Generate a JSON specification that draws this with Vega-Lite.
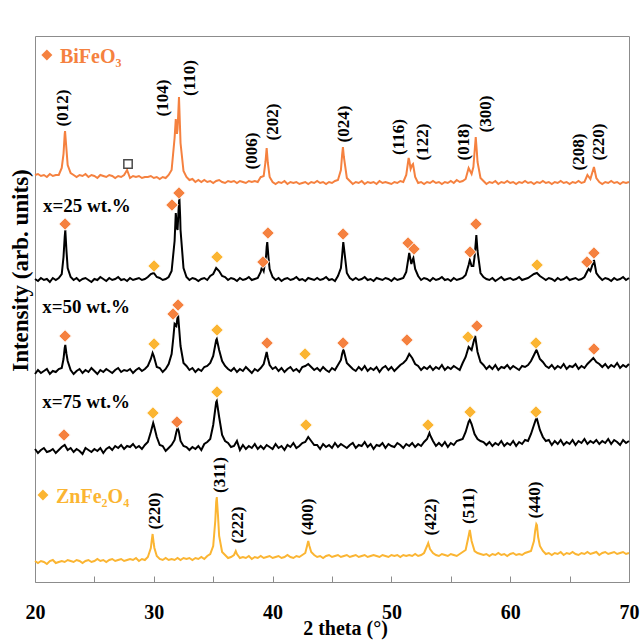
{
"$schema":"https://vega.github.io/schema/vega-lite/v6.json",
"width":594,"height":546,
"autosize":{"type":"none"},
"padding":{"left":35,"top":36,"right":13,"bottom":59},
"background":"white",
"config":{"view":{"stroke":"#8c8c8c","strokeWidth":1},"font":"Liberation Serif"},
"datasets":{
"xrd":[
{"t":20,"a":407,"b":303,"c":208,"d":133,"e":21},
{"t":20.25,"a":408,"b":301,"c":212,"d":129,"e":19},
{"t":20.5,"a":406,"b":304,"c":209,"d":132,"e":21},
{"t":20.75,"a":407,"b":302,"c":211,"d":134,"e":20},
{"t":21,"a":405,"b":303,"c":213,"d":130,"e":18},
{"t":21.25,"a":408,"b":300,"c":208,"d":131,"e":21},
{"t":21.5,"a":406,"b":304,"c":211,"d":133,"e":22},
{"t":21.75,"a":407,"b":302,"c":210,"d":129,"e":19},
{"t":22,"a":407,"b":304,"c":213,"d":132,"e":20},
{"t":22.25,"a":414,"b":308,"c":214,"d":135,"e":21},
{"t":22.5,"a":448,"b":345,"c":234,"d":137,"e":20},
{"t":22.75,"a":417,"b":314,"c":221,"d":132,"e":22},
{"t":23,"a":409,"b":305,"c":212,"d":134,"e":21},
{"t":23.25,"a":407,"b":302,"c":208,"d":130,"e":20},
{"t":23.5,"a":405,"b":304,"c":211,"d":133,"e":22},
{"t":23.75,"a":407,"b":301,"c":213,"d":131,"e":21},
{"t":24,"a":406,"b":303,"c":209,"d":128,"e":19},
{"t":24.25,"a":408,"b":304,"c":212,"d":134,"e":21},
{"t":24.5,"a":405,"b":302,"c":210,"d":132,"e":22},
{"t":24.75,"a":407,"b":300,"c":214,"d":130,"e":20},
{"t":25,"a":406,"b":303,"c":211,"d":133,"e":21},
{"t":25.25,"a":404,"b":302,"c":208,"d":131,"e":23},
{"t":25.5,"a":407,"b":305,"c":212,"d":134,"e":21},
{"t":25.75,"a":406,"b":303,"c":210,"d":129,"e":22},
{"t":26,"a":405,"b":301,"c":213,"d":133,"e":20},
{"t":26.25,"a":407,"b":304,"c":211,"d":135,"e":22},
{"t":26.5,"a":406,"b":302,"c":209,"d":132,"e":23},
{"t":26.75,"a":404,"b":303,"c":212,"d":136,"e":21},
{"t":27,"a":406,"b":305,"c":214,"d":134,"e":22},
{"t":27.25,"a":405,"b":302,"c":210,"d":137,"e":23},
{"t":27.5,"a":407,"b":303,"c":212,"d":133,"e":21},
{"t":27.75,"a":412,"b":301,"c":211,"d":136,"e":22},
{"t":28,"a":404,"b":304,"c":213,"d":135,"e":23},
{"t":28.25,"a":406,"b":302,"c":209,"d":138,"e":22},
{"t":28.5,"a":405,"b":303,"c":212,"d":134,"e":24},
{"t":28.75,"a":406,"b":304,"c":214,"d":136,"e":21},
{"t":29,"a":404,"b":302,"c":211,"d":133,"e":23},
{"t":29.25,"a":405,"b":303,"c":213,"d":137,"e":22},
{"t":29.5,"a":405,"b":305,"c":216,"d":140,"e":25},
{"t":29.75,"a":406,"b":308,"c":223,"d":150,"e":34},
{"t":30,"a":404,"b":309,"c":226,"d":157,"e":38},
{"t":30.25,"a":405,"b":305,"c":215,"d":145,"e":26},
{"t":30.5,"a":403,"b":304,"c":214,"d":137,"e":23},
{"t":30.75,"a":405,"b":302,"c":210,"d":136,"e":22},
{"t":31,"a":404,"b":303,"c":213,"d":131,"e":24},
{"t":31.25,"a":407,"b":305,"c":218,"d":134,"e":22},
{"t":31.5,"a":412,"b":311,"c":228,"d":137,"e":23},
{"t":31.75,"a":444,"b":341,"c":258,"d":142,"e":22},
{"t":32,"a":453,"b":352,"c":265,"d":154,"e":24},
{"t":32.25,"a":439,"b":352,"c":236,"d":141,"e":22},
{"t":32.5,"a":411,"b":314,"c":219,"d":136,"e":24},
{"t":32.75,"a":405,"b":305,"c":216,"d":135,"e":23},
{"t":33,"a":402,"b":302,"c":212,"d":132,"e":24},
{"t":33.25,"a":403,"b":304,"c":214,"d":135,"e":22},
{"t":33.5,"a":400,"b":303,"c":210,"d":133,"e":24},
{"t":33.75,"a":402,"b":301,"c":213,"d":136,"e":23},
{"t":34,"a":400,"b":303,"c":211,"d":132,"e":25},
{"t":34.25,"a":402,"b":304,"c":215,"d":138,"e":23},
{"t":34.5,"a":400,"b":302,"c":216,"d":140,"e":26},
{"t":34.75,"a":401,"b":306,"c":219,"d":143,"e":28},
{"t":35,"a":399,"b":308,"c":226,"d":157,"e":36},
{"t":35.25,"a":401,"b":314,"c":242,"d":180,"e":80},
{"t":35.5,"a":402,"b":311,"c":232,"d":165,"e":46},
{"t":35.75,"a":400,"b":306,"c":221,"d":147,"e":30},
{"t":36,"a":399,"b":305,"c":216,"d":141,"e":27},
{"t":36.25,"a":401,"b":302,"c":213,"d":139,"e":24},
{"t":36.5,"a":400,"b":304,"c":211,"d":135,"e":25},
{"t":36.75,"a":401,"b":303,"c":214,"d":136,"e":27},
{"t":37,"a":399,"b":301,"c":210,"d":141,"e":28},
{"t":37.25,"a":401,"b":304,"c":213,"d":132,"e":24},
{"t":37.5,"a":400,"b":302,"c":211,"d":137,"e":25},
{"t":37.75,"a":399,"b":303,"c":215,"d":133,"e":24},
{"t":38,"a":401,"b":305,"c":212,"d":136,"e":26},
{"t":38.25,"a":400,"b":302,"c":209,"d":134,"e":23},
{"t":38.5,"a":401,"b":303,"c":213,"d":138,"e":25},
{"t":38.75,"a":400,"b":304,"c":211,"d":133,"e":24},
{"t":39,"a":405,"b":310,"c":214,"d":136,"e":26},
{"t":39.25,"a":406,"b":311,"c":218,"d":133,"e":24},
{"t":39.5,"a":434,"b":335,"c":230,"d":137,"e":25},
{"t":39.75,"a":405,"b":313,"c":217,"d":135,"e":26},
{"t":40,"a":400,"b":305,"c":213,"d":133,"e":24},
{"t":40.25,"a":398,"b":302,"c":215,"d":138,"e":25},
{"t":40.5,"a":400,"b":304,"c":211,"d":134,"e":26},
{"t":40.75,"a":399,"b":301,"c":214,"d":136,"e":24},
{"t":41,"a":401,"b":303,"c":210,"d":132,"e":25},
{"t":41.25,"a":398,"b":304,"c":213,"d":137,"e":27},
{"t":41.5,"a":400,"b":302,"c":215,"d":135,"e":25},
{"t":41.75,"a":399,"b":303,"c":211,"d":139,"e":24},
{"t":42,"a":400,"b":305,"c":213,"d":134,"e":26},
{"t":42.25,"a":398,"b":302,"c":210,"d":136,"e":25},
{"t":42.5,"a":399,"b":303,"c":215,"d":139,"e":27},
{"t":42.75,"a":400,"b":301,"c":216,"d":140,"e":29},
{"t":43,"a":398,"b":304,"c":218,"d":145,"e":41},
{"t":43.25,"a":400,"b":303,"c":215,"d":141,"e":30},
{"t":43.5,"a":399,"b":302,"c":212,"d":137,"e":27},
{"t":43.75,"a":401,"b":304,"c":214,"d":137,"e":25},
{"t":44,"a":399,"b":302,"c":211,"d":133,"e":26},
{"t":44.25,"a":400,"b":303,"c":215,"d":138,"e":24},
{"t":44.5,"a":398,"b":305,"c":212,"d":135,"e":26},
{"t":44.75,"a":400,"b":302,"c":210,"d":137,"e":27},
{"t":45,"a":399,"b":303,"c":214,"d":134,"e":25},
{"t":45.25,"a":401,"b":301,"c":212,"d":139,"e":26},
{"t":45.5,"a":402,"b":306,"c":217,"d":135,"e":27},
{"t":45.75,"a":412,"b":314,"c":222,"d":138,"e":25},
{"t":46,"a":425,"b":335,"c":231,"d":136,"e":26},
{"t":46.25,"a":404,"b":309,"c":219,"d":134,"e":27},
{"t":46.5,"a":401,"b":304,"c":216,"d":137,"e":25},
{"t":46.75,"a":398,"b":302,"c":213,"d":139,"e":26},
{"t":47,"a":400,"b":304,"c":211,"d":134,"e":27},
{"t":47.25,"a":399,"b":302,"c":215,"d":137,"e":25},
{"t":47.5,"a":401,"b":303,"c":212,"d":136,"e":26},
{"t":47.75,"a":398,"b":305,"c":216,"d":140,"e":27},
{"t":48,"a":400,"b":302,"c":211,"d":135,"e":25},
{"t":48.25,"a":399,"b":303,"c":214,"d":138,"e":26},
{"t":48.5,"a":400,"b":301,"c":212,"d":133,"e":27},
{"t":48.75,"a":398,"b":304,"c":215,"d":137,"e":26},
{"t":49,"a":401,"b":303,"c":210,"d":136,"e":25},
{"t":49.25,"a":399,"b":302,"c":214,"d":139,"e":27},
{"t":49.5,"a":400,"b":304,"c":216,"d":134,"e":26},
{"t":49.75,"a":399,"b":303,"c":212,"d":138,"e":25},
{"t":50,"a":398,"b":301,"c":215,"d":136,"e":27},
{"t":50.25,"a":400,"b":304,"c":211,"d":135,"e":26},
{"t":50.5,"a":399,"b":302,"c":214,"d":139,"e":27},
{"t":50.75,"a":401,"b":303,"c":217,"d":137,"e":25},
{"t":51,"a":400,"b":304,"c":219,"d":134,"e":27},
{"t":51.25,"a":407,"b":310,"c":222,"d":138,"e":26},
{"t":51.5,"a":422,"b":329,"c":228,"d":136,"e":27},
{"t":51.75,"a":417,"b":321,"c":224,"d":139,"e":26},
{"t":52,"a":405,"b":313,"c":218,"d":135,"e":28},
{"t":52.25,"a":399,"b":306,"c":216,"d":138,"e":26},
{"t":52.5,"a":400,"b":302,"c":212,"d":136,"e":27},
{"t":52.75,"a":398,"b":304,"c":215,"d":140,"e":29},
{"t":53,"a":400,"b":303,"c":213,"d":143,"e":36},
{"t":53.25,"a":399,"b":301,"c":216,"d":147,"e":33},
{"t":53.5,"a":401,"b":304,"c":212,"d":141,"e":29},
{"t":53.75,"a":399,"b":302,"c":215,"d":136,"e":27},
{"t":54,"a":400,"b":303,"c":213,"d":139,"e":26},
{"t":54.25,"a":398,"b":305,"c":217,"d":136,"e":28},
{"t":54.5,"a":400,"b":302,"c":212,"d":140,"e":27},
{"t":54.75,"a":399,"b":303,"c":215,"d":135,"e":26},
{"t":55,"a":401,"b":301,"c":213,"d":139,"e":28},
{"t":55.25,"a":399,"b":304,"c":216,"d":137,"e":27},
{"t":55.5,"a":402,"b":302,"c":214,"d":141,"e":26},
{"t":55.75,"a":400,"b":303,"c":212,"d":142,"e":28},
{"t":56,"a":401,"b":304,"c":219,"d":143,"e":30},
{"t":56.25,"a":403,"b":307,"c":225,"d":150,"e":32},
{"t":56.5,"a":414,"b":317,"c":235,"d":160,"e":46},
{"t":56.75,"a":408,"b":316,"c":232,"d":158,"e":41},
{"t":57,"a":430,"b":325,"c":244,"d":148,"e":31},
{"t":57.25,"a":420,"b":331,"c":230,"d":143,"e":29},
{"t":57.5,"a":404,"b":309,"c":220,"d":141,"e":28},
{"t":57.75,"a":401,"b":305,"c":217,"d":140,"e":27},
{"t":58,"a":398,"b":303,"c":213,"d":137,"e":28},
{"t":58.25,"a":400,"b":302,"c":216,"d":140,"e":26},
{"t":58.5,"a":399,"b":304,"c":213,"d":136,"e":28},
{"t":58.75,"a":401,"b":301,"c":217,"d":139,"e":27},
{"t":59,"a":398,"b":303,"c":212,"d":137,"e":29},
{"t":59.25,"a":400,"b":305,"c":215,"d":141,"e":27},
{"t":59.5,"a":399,"b":302,"c":214,"d":136,"e":28},
{"t":59.75,"a":401,"b":303,"c":217,"d":139,"e":26},
{"t":60,"a":399,"b":304,"c":213,"d":137,"e":28},
{"t":60.25,"a":400,"b":302,"c":216,"d":141,"e":29},
{"t":60.5,"a":398,"b":303,"c":214,"d":136,"e":27},
{"t":60.75,"a":400,"b":305,"c":212,"d":140,"e":28},
{"t":61,"a":399,"b":302,"c":216,"d":138,"e":27},
{"t":61.25,"a":401,"b":303,"c":215,"d":142,"e":29},
{"t":61.5,"a":399,"b":304,"c":217,"d":141,"e":30},
{"t":61.75,"a":400,"b":306,"c":221,"d":148,"e":31},
{"t":62,"a":398,"b":308,"c":227,"d":157,"e":41},
{"t":62.25,"a":400,"b":309,"c":231,"d":163,"e":57},
{"t":62.5,"a":399,"b":306,"c":223,"d":152,"e":36},
{"t":62.75,"a":401,"b":304,"c":220,"d":145,"e":31},
{"t":63,"a":399,"b":302,"c":216,"d":141,"e":28},
{"t":63.25,"a":400,"b":304,"c":214,"d":142,"e":29},
{"t":63.5,"a":398,"b":303,"c":217,"d":137,"e":27},
{"t":63.75,"a":400,"b":301,"c":213,"d":141,"e":29},
{"t":64,"a":399,"b":304,"c":216,"d":138,"e":28},
{"t":64.25,"a":401,"b":302,"c":214,"d":142,"e":30},
{"t":64.5,"a":399,"b":303,"c":218,"d":137,"e":27},
{"t":64.75,"a":400,"b":305,"c":213,"d":140,"e":29},
{"t":65,"a":398,"b":302,"c":216,"d":138,"e":28},
{"t":65.25,"a":400,"b":303,"c":215,"d":142,"e":30},
{"t":65.5,"a":399,"b":304,"c":218,"d":137,"e":28},
{"t":65.75,"a":401,"b":302,"c":213,"d":141,"e":27},
{"t":66,"a":399,"b":303,"c":216,"d":139,"e":29},
{"t":66.25,"a":400,"b":305,"c":214,"d":143,"e":28},
{"t":66.5,"a":407,"b":311,"c":218,"d":138,"e":30},
{"t":66.75,"a":403,"b":311,"c":221,"d":141,"e":28},
{"t":67,"a":413,"b":320,"c":224,"d":139,"e":29},
{"t":67.25,"a":404,"b":309,"c":220,"d":142,"e":30},
{"t":67.5,"a":400,"b":305,"c":218,"d":138,"e":27},
{"t":67.75,"a":398,"b":302,"c":215,"d":141,"e":29},
{"t":68,"a":400,"b":304,"c":218,"d":139,"e":30},
{"t":68.25,"a":399,"b":303,"c":214,"d":143,"e":28},
{"t":68.5,"a":401,"b":301,"c":217,"d":138,"e":29},
{"t":68.75,"a":399,"b":304,"c":215,"d":142,"e":30},
{"t":69,"a":400,"b":302,"c":219,"d":140,"e":28},
{"t":69.25,"a":398,"b":303,"c":214,"d":137,"e":29},
{"t":69.5,"a":400,"b":305,"c":217,"d":142,"e":30},
{"t":69.75,"a":399,"b":302,"c":215,"d":139,"e":28},
{"t":70,"a":400,"b":304,"c":218,"d":141,"e":29},
{"t":22.4,"a":428,"b":325,"c":223},
{"t":22.53,"a":451},
{"t":22.55,"b":352,"c":237},
{"t":22.6,"a":440},
{"t":22.65,"b":331,"c":228},
{"t":29.82,"e":41},
{"t":29.9,"c":229,"e":48},
{"t":29.95,"d":159},
{"t":30.05,"e":34},
{"t":31.65,"c":245},
{"t":31.85,"a":463,"b":369},
{"t":31.9,"c":256,"d":150},
{"t":31.95,"a":448,"b":354},
{"t":32.05,"a":466,"c":266},
{"t":32.08,"b":371},
{"t":32.1,"d":151},
{"t":32.12,"a":485},
{"t":32.15,"b":385,"c":251},
{"t":32.2,"a":457},
{"t":32.22,"b":365},
{"t":35.18,"e":62},
{"t":35.3,"c":243,"d":181,"e":85},
{"t":35.4,"e":67},
{"t":36.9,"e":31},
{"t":39.05,"a":405},
{"t":39.1,"b":315},
{"t":39.4,"a":420,"c":225},
{"t":39.45,"b":326},
{"t":39.55,"b":340},
{"t":39.6,"a":419,"c":224},
{"t":39.65,"b":325},
{"t":42.9,"e":36},
{"t":43.1,"e":36},
{"t":45.85,"a":427,"b":326,"c":228},
{"t":45.92,"a":435},
{"t":45.95,"b":340,"c":232},
{"t":51.45,"a":424},
{"t":51.62,"a":413},
{"t":51.68,"b":318},
{"t":51.82,"a":418},
{"t":51.85,"b":324},
{"t":53.1,"e":39},
{"t":53.2,"d":149},
{"t":56.6,"b":322,"d":162,"e":52},
{"t":56.9,"a":415,"b":316},
{"t":57.05,"b":332,"c":246},
{"t":57.1,"a":445},
{"t":57.15,"b":347},
{"t":57.2,"a":429},
{"t":62.1,"e":51},
{"t":62.2,"c":232,"d":164,"e":58},
{"t":62.35,"e":45},
{"t":66.6,"b":313},
{"t":67.05,"a":415,"b":322}
],
"mk":[
{"t":22.53,"v":358,"p":"B"},{"t":30.02,"v":316,"p":"Z"},{"t":31.53,"v":377,"p":"B"},{"t":32.12,"v":389,"p":"B"},{"t":35.32,"v":325,"p":"Z"},{"t":39.19,"v":320,"p":"B"},{"t":39.61,"v":349,"p":"B"},{"t":45.93,"v":348,"p":"B"},{"t":51.4,"v":339,"p":"B"},{"t":51.9,"v":333,"p":"B"},{"t":56.62,"v":330,"p":"B"},{"t":57.12,"v":358,"p":"B"},{"t":62.26,"v":317,"p":"Z"},{"t":66.46,"v":320,"p":"B"},{"t":67.05,"v":329,"p":"B"},
{"t":22.53,"v":246,"p":"B"},{"t":30.02,"v":238,"p":"Z"},{"t":31.62,"v":268,"p":"B"},{"t":32.04,"v":277,"p":"B"},{"t":35.32,"v":252,"p":"Z"},{"t":39.53,"v":239,"p":"B"},{"t":42.73,"v":228,"p":"Z"},{"t":45.93,"v":239,"p":"B"},{"t":51.31,"v":242,"p":"B"},{"t":56.45,"v":245,"p":"Z"},{"t":57.2,"v":256,"p":"B"},{"t":62.17,"v":239,"p":"Z"},{"t":67.05,"v":233,"p":"B"},
{"t":22.44,"v":147,"p":"B"},{"t":29.93,"v":169,"p":"Z"},{"t":31.95,"v":160,"p":"B"},{"t":35.32,"v":190,"p":"Z"},{"t":42.81,"v":157,"p":"Z"},{"t":53.08,"v":157,"p":"Z"},{"t":56.62,"v":170,"p":"Z"},{"t":62.17,"v":170,"p":"Z"}
],
"legmk":[{"t":21.0,"v":527,"p":"B"},{"t":20.67,"v":87,"p":"Z"}],
"legtx":[{"t":22.1,"v":519,"p":"B","label":"BiFeO₃"},{"t":21.77,"v":79,"p":"Z","label":"ZnFe₂O₄"}],
"hkl":[
{"t":22.36,"v":474,"h":"(012)"},{"t":30.77,"v":484,"h":"(104)"},{"t":33.05,"v":504,"h":"(110)"},{"t":38.27,"v":431,"h":"(006)"},{"t":40.03,"v":460,"h":"(202)"},{"t":46.01,"v":458,"h":"(024)"},{"t":50.64,"v":445,"h":"(116)"},{"t":52.66,"v":440,"h":"(122)"},{"t":56.11,"v":440,"h":"(018)"},{"t":57.96,"v":468,"h":"(300)"},{"t":65.79,"v":430,"h":"(208)"},{"t":67.47,"v":440,"h":"(220)"},
{"t":30.1,"v":71,"h":"(220)"},{"t":35.57,"v":107,"h":"(311)"},{"t":37.09,"v":57,"h":"(222)"},{"t":42.98,"v":65,"h":"(400)"},{"t":53.33,"v":65,"h":"(422)"},{"t":56.53,"v":76,"h":"(511)"},{"t":62.09,"v":82,"h":"(440)"}
],
"smp":[{"t":20.67,"v":370,"label":"x=25 wt.%"},{"t":20.6,"v":269,"label":"x=50 wt.%"},{"t":20.6,"v":174,"label":"x=75 wt.%"}],
"sq":[{"t":27.83,"v":418}]
},
"encoding":{
"x":{"field":"t","type":"quantitative","scale":{"domain":[20,70],"nice":false,"zero":false},
"axis":{"values":[20,25,30,35,40,45,50,55,60,65,70],"labelExpr":"datum.value % 10 === 0 ? datum.label : ''","domain":false,"grid":false,"ticks":true,"offset":-6,"tickSize":6,"tickColor":"#8c8c8c","tickWidth":1,"labelFont":"Liberation Serif","labelFontWeight":"bold","labelFontSize":20,"labelColor":"black","labelPadding":20,"labelFlush":false,
"title":"2 theta (°)","titleFont":"Liberation Serif","titleFontWeight":"bold","titleFontSize":20,"titleColor":"black","titleX":310,"titleY":58,"titleBaseline":"alphabetic","titleAlign":"center"}},
"y":{"field":"v","type":"quantitative","scale":{"domain":[0,546],"nice":false,"zero":false},
"axis":{"domain":false,"ticks":false,"labels":false,"grid":false,"title":"Intensity (arb. units)","titleFont":"Liberation Serif","titleFontWeight":"bold","titleFontSize":23,"titleColor":"black","titleX":-8,"titleY":234,"titleAlign":"center","titleBaseline":"alphabetic","titleAngle":-90}}
},
"layer":[
{"data":{"name":"xrd"},"transform":[{"fold":["a","b","c","d","e"],"as":["s","v"]},{"filter":{"field":"v","valid":true}}],
 "mark":{"type":"line","strokeWidth":2,"interpolate":"linear"},
 "encoding":{"stroke":{"field":"s","type":"nominal","scale":{"domain":["a","b","c","d","e"],"range":["#F5813F","#000000","#000000","#000000","#FBB532"]},"legend":null}}},
{"data":{"name":"mk"},"mark":{"type":"point","shape":"diamond","filled":true,"size":160,"stroke":"white","strokeWidth":1,"opacity":1},
 "encoding":{"fill":{"field":"p","type":"nominal","scale":{"domain":["B","Z"],"range":["#F5813F","#FBB532"]},"legend":null}}},
{"data":{"name":"legmk"},"mark":{"type":"point","shape":"diamond","filled":true,"size":120,"opacity":1},
 "encoding":{"fill":{"field":"p","type":"nominal","legend":null}}},
{"data":{"name":"legtx"},"mark":{"type":"text","align":"left","baseline":"alphabetic","font":"Liberation Serif","fontWeight":"bold","fontSize":20},
 "encoding":{"text":{"field":"label"},"fill":{"field":"p","type":"nominal","legend":null}}},
{"data":{"name":"hkl"},"mark":{"type":"text","angle":270,"align":"center","baseline":"middle","font":"Liberation Serif","fontWeight":"bold","fontSize":17,"color":"black"},
 "encoding":{"text":{"field":"h"}}},
{"data":{"name":"smp"},"mark":{"type":"text","align":"left","baseline":"alphabetic","font":"Liberation Serif","fontWeight":"bold","fontSize":19,"color":"black"},
 "encoding":{"text":{"field":"label"}}},
{"data":{"name":"sq"},"mark":{"type":"point","shape":"square","filled":false,"size":70,"stroke":"black","strokeWidth":1.5}}
]
}
